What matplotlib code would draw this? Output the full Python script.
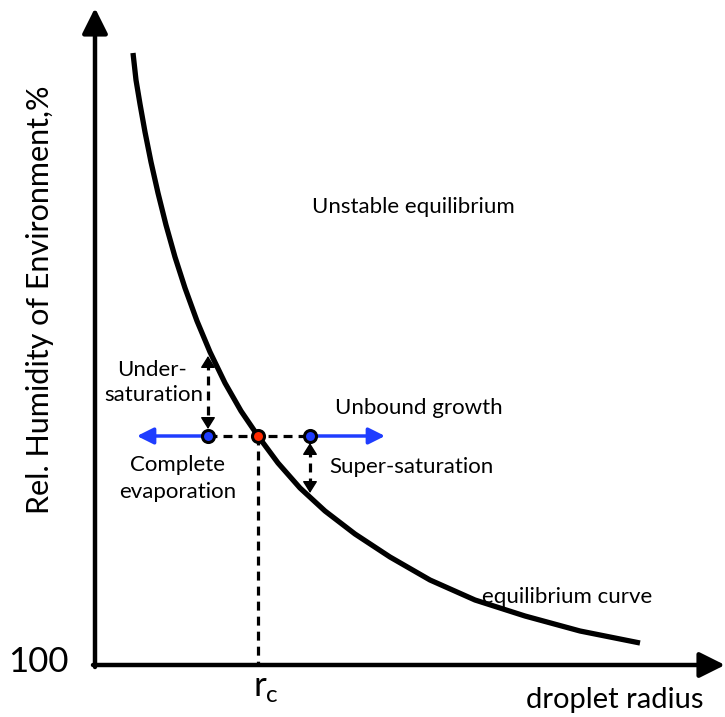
import matplotlib.pyplot as plt

plt.rcParams['font.family'] = ['Lato', 'DejaVu Sans']

# equilibrium curve (x = droplet radius, y = humidity, screen units)
curve_r = [133, 136, 140, 145, 151, 158, 166, 175, 185, 197, 210, 225, 241, 258,
           278, 300, 325, 355, 390, 430, 475, 525, 580, 640]
curve_h = [53, 80, 104, 132, 162, 193, 225, 257, 288, 321, 352, 383, 411, 436,
           463, 488, 511, 534, 557, 580, 600, 616, 631, 643]

# key points on the horizontal line
rc = 258
level = 436
left_pt = 208
right_pt = 310
curve_at_left = 356
curve_at_right = 493

fig = plt.figure(figsize=(7.25, 7.17), dpi=100)
ax = fig.add_axes([0, 0, 1, 1])
ax.set_xlim(0, 725)
ax.set_ylim(717, 0)
ax.axis('off')

# axes with arrows
x0, y0 = 95, 665
head = '-|>,head_length=1.1,head_width=0.55'
ax.annotate('', xy=(x0, 8), xytext=(x0, y0 + 2),
            arrowprops=dict(arrowstyle=head, lw=3.2, color='k', mutation_scale=14,
                            shrinkA=0, shrinkB=0))
ax.annotate('', xy=(725, y0), xytext=(x0 - 2, y0),
            arrowprops=dict(arrowstyle=head, lw=3.2, color='k', mutation_scale=14,
                            shrinkA=0, shrinkB=0))

# equilibrium curve
ax.plot(curve_r, curve_h, color='k', lw=3.8, solid_capstyle='butt',
        solid_joinstyle='round', zorder=3)

# dashed guide lines
dash = (0, (2.8, 1.9))
ax.plot([left_pt, right_pt], [level, level], color='k', lw=2.3, ls=dash, zorder=2)
ax.plot([rc, rc], [level, y0], color='k', lw=2.3, ls=dash, zorder=2)

# blue arrows
blue = '#1f3dff'
for start, end in [(left_pt, 137), (right_pt, 385)]:
    ax.annotate('', xy=(end, level), xytext=(start, level),
                arrowprops=dict(arrowstyle='-|>,head_length=0.9,head_width=0.45',
                                lw=2.5, color=blue, mutation_scale=11,
                                shrinkA=0, shrinkB=0),
                zorder=2)

# dashed double arrows (under- and super-saturation)
for xv, ya, yb in [(left_pt, curve_at_left, level - 7), (right_pt, level + 7, curve_at_right)]:
    ax.plot([xv, xv], [ya + 5, yb - 5], color='k', lw=2.3, ls=dash, zorder=2)
    for tip, back in [(ya, ya + 6), (yb, yb - 6)]:
        ax.annotate('', xy=(xv, tip), xytext=(xv, back),
                    arrowprops=dict(arrowstyle='-|>,head_length=0.8,head_width=0.5',
                                    lw=1, color='k', mutation_scale=9,
                                    shrinkA=0, shrinkB=0))

# points
ax.scatter([left_pt, right_pt], [level, level], s=75, color=blue,
           edgecolor='k', linewidth=2.2, zorder=5)
ax.scatter([rc], [level], s=75, color='#ff2a00', edgecolor='k', linewidth=2.2, zorder=5)

# labels
fs = 16
ax.text(413, 207, 'Unstable equilibrium', fontsize=fs, ha='center', va='center')
ax.text(187, 370, 'Under-', fontsize=fs, ha='right', va='center')
ax.text(203, 395, 'saturation', fontsize=fs, ha='right', va='center')
ax.text(335, 408, 'Unbound growth', fontsize=fs, ha='left', va='center')
ax.text(178, 465, 'Complete', fontsize=fs, ha='center', va='center')
ax.text(178, 492, 'evaporation', fontsize=fs, ha='center', va='center')
ax.text(329, 467, 'Super-saturation', fontsize=fs, ha='left', va='center')
ax.text(567, 597, 'equilibrium curve', fontsize=fs, ha='center', va='center')

ax.text(38, 662, '100', fontsize=25, ha='center', va='center')
ax.text(266, 688, r'r$_\mathregular{c}$', fontsize=25, ha='center', va='center')
ax.text(615, 700, 'droplet radius', fontsize=21, ha='center', va='center')
ax.text(40, 300, 'Rel. Humidity of Environment,%', fontsize=22, rotation=90,
        ha='center', va='center')

fig.savefig('out.png', dpi=100)
